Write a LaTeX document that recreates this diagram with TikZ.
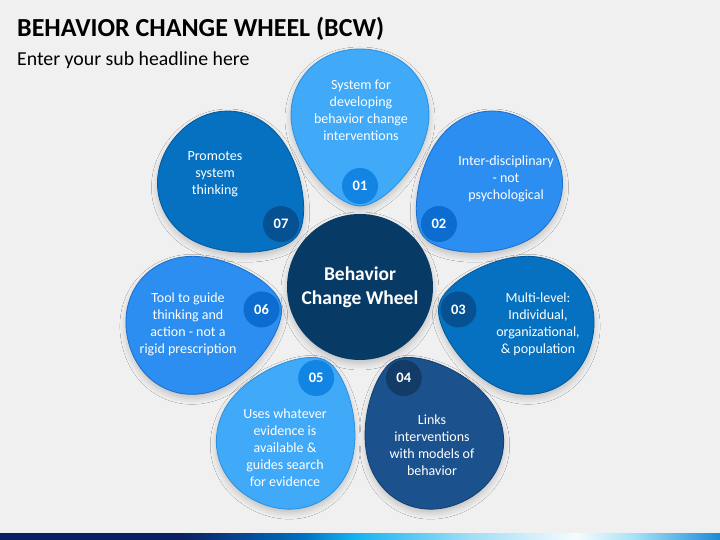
\documentclass[tikz,border=0pt]{standalone}
\usepackage{fontspec}
\setmainfont{Carlito}
\usetikzlibrary{calc,shadows.blur}
\definecolor{bgc}{HTML}{F0F0F0}
\definecolor{pA}{HTML}{40A9F8}
\definecolor{pAd}{HTML}{2C8FE0}
\definecolor{bA}{HTML}{1284E4}
\definecolor{pB}{HTML}{2B8EF0}
\definecolor{pBd}{HTML}{1A6FCC}
\definecolor{bB}{HTML}{0C6CCF}
\definecolor{pC}{HTML}{0571C0}
\definecolor{pCd}{HTML}{04589A}
\definecolor{bC}{HTML}{065192}
\definecolor{pD}{HTML}{1B528D}
\definecolor{pDd}{HTML}{123E6E}
\definecolor{bD}{HTML}{123B66}
\definecolor{hubc}{HTML}{083A66}
\definecolor{barA}{HTML}{0C1F5E}
\definecolor{barB}{HTML}{0070C0}
\definecolor{barC}{HTML}{12B2EE}
\definecolor{barD}{HTML}{9EDDF6}
\definecolor{barE}{HTML}{F6FBFF}
\definecolor{barF}{HTML}{A8E2F6}
\definecolor{barG}{HTML}{1E8AD6}
\pgfdeclarehorizontalshading{bcwbar}{100bp}{color(0bp)=(barA); color(25bp)=(barA); color(37.5bp)=(barA); color(46bp)=(barB); color(49.5bp)=(barC); color(57.5bp)=(barD); color(65bp)=(barE); color(69bp)=(barF); color(75bp)=(barG); color(100bp)=(barG)}
\newcommand\bcwpetal[3]{%
  \begin{scope}[shift={(360,253)},rotate=#1]
    \filldraw[petalshape, fill=#2, draw=#3] (81,0) .. controls (81,25) and (130,69) .. (172,69) .. controls (210,69) and (238,40) .. (238,0) .. controls (238,-40) and (210,-69) .. (172,-69) .. controls (130,-69) and (81,-25) .. cycle;
  \end{scope}}
\begin{document}
\begin{tikzpicture}[x=1pt,y=1pt,
  petalshape/.style={line width=0.8pt, blur shadow={shadow xshift=0pt, shadow yshift=-4pt, shadow blur radius=6pt, shadow opacity=20}},
  badge/.style={circle, minimum size=36pt, inner sep=0pt, text=white, font=\fontsize{14.5}{16}\selectfont\bfseries},
  ptext/.style={align=center, text=white, font=\fontsize{14}{17}\selectfont, inner sep=0pt},
]
\fill[bgc] (0,0) rectangle (720,540);
\useasboundingbox (0,0) rectangle (720,540);
% title
\node[anchor=base west, inner sep=0pt, font=\fontsize{26}{30}\selectfont\bfseries] (title) at (17,503) {BEHAVIOR CHANGE WHEEL (BCW)};
\node[anchor=base west, inner sep=0pt, font=\fontsize{19.8}{23}\selectfont] (subtitle) at (17,474) {Enter your sub headline here};
% petals
\bcwpetal{90}{pA}{pAd}
\bcwpetal{38.571}{pB}{pBd}
\bcwpetal{-12.857}{pC}{pCd}
\bcwpetal{-64.286}{pD}{pDd}
\bcwpetal{-115.714}{pA}{pAd}
\bcwpetal{-167.143}{pB}{pBd}
\bcwpetal{141.429}{pC}{pCd}
% hub
\node[circle, fill=hubc, minimum size=146pt, inner sep=0pt, align=center, text=white,
  font=\fontsize{19.5}{24}\selectfont\bfseries,
  blur shadow={shadow xshift=0pt, shadow yshift=-4pt, shadow blur radius=6pt, shadow opacity=20}] (hub) at (360,253) {Behavior\\Change Wheel};
% badges
\node[badge, fill=bA] (b1) at ($(hub.center)+(90:101)$) {01};
\node[badge, fill=bB] (b2) at ($(hub.center)+(38.571:101)$) {02};
\node[badge, fill=bC] (b3) at ($(hub.center)+(-12.857:101)$) {03};
\node[badge, fill=bD] (b4) at ($(hub.center)+(-64.286:101)$) {04};
\node[badge, fill=bA] (b5) at ($(hub.center)+(-115.714:101)$) {05};
\node[badge, fill=bB] (b6) at ($(hub.center)+(-167.143:101)$) {06};
\node[badge, fill=bC] (b7) at ($(hub.center)+(141.429:101)$) {07};
% texts
\node[ptext] (t1) at (361,430) {System for\\developing\\behavior change\\interventions};
\node[ptext] (t2) at (506,361) {Inter-disciplinary\\- not\\psychological};
\node[ptext] (t3) at (538,216) {Multi-level:\\Individual,\\organizational,\\\& population};
\node[ptext] (t4) at (432,95) {Links\\interventions\\with models of\\behavior};
\node[ptext] (t5) at (285,92) {Uses whatever\\evidence is\\available \&\\guides search\\for evidence};
\node[ptext] (t6) at (188,216) {Tool to guide\\thinking and\\action - not a\\rigid prescription};
\node[ptext] (t7) at (215,366) {Promotes\\system\\thinking};
% bottom bar
\fill[shading=bcwbar] (0,0) rectangle (720,6);
\end{tikzpicture}
\end{document}
